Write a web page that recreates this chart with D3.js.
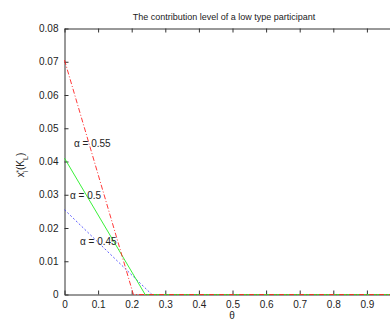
<!DOCTYPE html>
<html>
<head>
<meta charset="utf-8">
<script src="https://cdn.jsdelivr.net/npm/d3@7"></script>
<style>
  body { margin: 0; background: #fff; }
  svg { display: block; font-family: "Liberation Sans", Arial, sans-serif; }
</style>
</head>
<body>
<div id="chart"></div>
<script>
// theta values and contribution levels
var thetaLow = [0, 0.205, 1];
var alpha055 = [0.0705, 0, 0];
var thetaMid = [0, 0.24, 1];
var alpha05 = [0.041, 0, 0];
var thetaHigh = [0, 0.26, 1];
var alpha045 = [0.0255, 0, 0];

// the 1.0 tick falls past the right edge of the picture
var xTicks = [0, 0.1, 0.2, 0.3, 0.4, 0.5, 0.6, 0.7, 0.8, 0.9];
var yTicks = [0, 0.01, 0.02, 0.03, 0.04, 0.05, 0.06, 0.07, 0.08];

var width = 390, height = 320;
var svg = d3.select("#chart").append("svg")
  .attr("width", width)
  .attr("height", height);

var x = d3.scaleLinear().domain([0, 1]).range([64.5, 400.5]);
var y = d3.scaleLinear().domain([0, 0.08]).range([294.5, 28.5]);

function pts(xs, ys) {
  return xs.map(function (d, i) { return [d, ys[i]]; });
}

var line = d3.line()
  .x(function (d) { return x(d[0]); })
  .y(function (d) { return y(d[1]); });

// axes
var xAxis = svg.append("g")
  .attr("transform", "translate(0," + y(0) + ")")
  .call(d3.axisBottom(x).tickValues(xTicks).tickSizeInner(-4).tickSizeOuter(0).tickPadding(6)
    .tickFormat(function (d) { return d === 0 ? "0" : d3.format(".1f")(d); }));

var xTop = svg.append("g")
  .attr("transform", "translate(0," + y(0.08) + ")")
  .call(d3.axisTop(x).tickValues(xTicks).tickSizeInner(-4).tickSizeOuter(0).tickFormat(""));

var yAxis = svg.append("g")
  .attr("transform", "translate(" + x(0) + ",0)")
  .call(d3.axisLeft(y).tickValues(yTicks).tickSizeInner(-4).tickSizeOuter(0).tickPadding(6)
    .tickFormat(function (d) { return d === 0 ? "0" : d3.format(".2f")(d); }));

[xAxis, xTop, yAxis].forEach(function (g) {
  g.selectAll("path").attr("stroke", "#333").attr("stroke-width", 1);
  g.selectAll("line").attr("stroke", "#333");
  g.selectAll("text").attr("fill", "#222").style("font-size", "10px");
});

// series
svg.append("path")
  .datum(pts(thetaHigh, alpha045))
  .attr("d", line)
  .attr("fill", "none")
  .attr("stroke", "#3333ff")
  .attr("stroke-width", 0.8)
  .attr("stroke-dasharray", "2,2");

svg.append("path")
  .datum(pts(thetaMid, alpha05))
  .attr("d", line)
  .attr("fill", "none")
  .attr("stroke", "#22ee22")
  .attr("stroke-width", 0.9);

svg.append("path")
  .datum(pts(thetaLow, alpha055))
  .attr("d", line)
  .attr("fill", "none")
  .attr("stroke", "#ff2222")
  .attr("stroke-width", 0.9)
  .attr("stroke-dasharray", "5,2,1,2");

// labels
var labels = [
  { t: "\u03b1 = 0.55", x: 74, y: 147 },
  { t: "\u03b1 = 0.5", x: 70, y: 199 },
  { t: "\u03b1 = 0.45", x: 80, y: 245 }
];
svg.selectAll(".lbl").data(labels).enter().append("text")
  .attr("class", "lbl")
  .attr("x", function (d) { return d.x; })
  .attr("y", function (d) { return d.y; })
  .attr("fill", "#222")
  .style("font-size", "10px")
  .text(function (d) { return d.t; });

svg.append("text")
  .attr("x", 224)
  .attr("y", 20)
  .attr("text-anchor", "middle")
  .attr("fill", "#222")
  .style("font-size", "9px")
  .text("The contribution level of a low type participant");

svg.append("text")
  .attr("x", 232)
  .attr("y", 319)
  .attr("text-anchor", "middle")
  .attr("fill", "#222")
  .style("font-size", "10px")
  .text("\u03b8");

var yl = svg.append("text")
  .attr("transform", "translate(24,165) rotate(-90)")
  .attr("text-anchor", "middle")
  .attr("fill", "#222")
  .style("font-size", "10px");
yl.append("tspan").text("x");
yl.append("tspan").attr("baseline-shift", "sub").style("font-size", "7px").text("i");
yl.append("tspan").attr("baseline-shift", "super").style("font-size", "7px").attr("dx", -2).text("*");
yl.append("tspan").text("(K");
yl.append("tspan").attr("baseline-shift", "sub").style("font-size", "7px").text("L");
yl.append("tspan").text(")");
</script>
</body>
</html>
